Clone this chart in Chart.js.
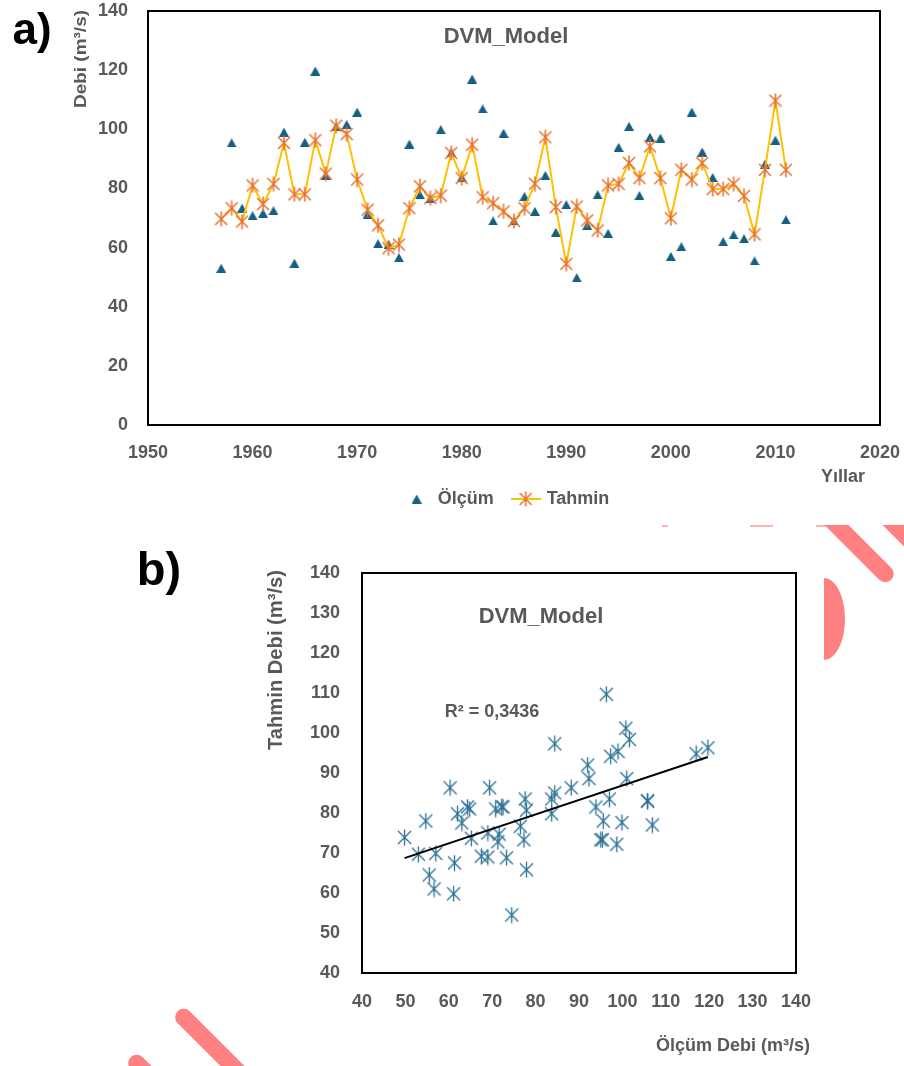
<!DOCTYPE html>
<html>
<head>
<meta charset="utf-8">
<script src="https://cdn.jsdelivr.net/npm/chart.js@4.4.1/dist/chart.umd.min.js"></script>
<style>
  body { margin: 0; width: 904px; height: 1066px; overflow: hidden; background: #fff; position: relative; }
  canvas { position: absolute; left: 0; }
  #chartA { top: 0; }
  #chartB { top: 520px; }
  .clip { position: absolute; overflow: hidden; }
  .wm { position: absolute; background: #ff8080; }
  .wmLine { position: absolute; background: #ffb3b3; height: 2px; top: 0; }
</style>
</head>
<body>
<canvas id="chartA" width="904" height="520" style="width:904px;height:520px"></canvas>
<canvas id="chartB" width="904" height="546" style="width:904px;height:546px"></canvas>

<!-- leftovers of the red watermark that sits on the source figure -->
<div class="clip" style="left:0;top:525px;width:904px;height:541px">
  <div class="wmLine" style="left:662px;width:6px"></div>
  <div class="wmLine" style="left:750px;width:23px"></div>
  <div class="wmLine" style="left:816px;width:26px"></div>
  <div class="wm" style="left:811px;top:13px;width:94px;height:17px;border-radius:9px;transform:rotate(45deg)"></div>
  <div class="wm" style="left:874px;top:1px;width:60px;height:17px;border-radius:9px;transform:rotate(45deg)"></div>
  <div class="clip" style="left:824px;top:53px;width:30px;height:82px">
    <div class="wm" style="left:-21px;top:0;width:42px;height:82px;border-radius:50%"></div>
  </div>
  <div class="wm" style="left:163px;top:513px;width:100px;height:17px;border-radius:9px;transform:rotate(45deg)"></div>
  <div class="wm" style="left:116px;top:559px;width:100px;height:17px;border-radius:9px;transform:rotate(45deg)"></div>
</div>

<script>
// yearly flow, m3/s
const years = [1957, 1958, 1959, 1960, 1961, 1962, 1963, 1964, 1965, 1966,
  1967, 1968, 1969, 1970, 1971, 1972, 1973, 1974, 1975, 1976,
  1977, 1978, 1979, 1980, 1981, 1982, 1983, 1984, 1985, 1986,
  1987, 1988, 1989, 1990, 1991, 1992, 1993, 1994, 1995, 1996,
  1997, 1998, 1999, 2000, 2001, 2002, 2003, 2004, 2005, 2006,
  2007, 2008, 2009, 2010, 2011];
const olcum = [53.0, 95.4, 73.3, 70.8, 71.6, 72.5, 99.0, 54.7, 95.6, 119.7,
  84.4, 100.8, 101.6, 105.8, 71.3, 61.3, 61.1, 56.6, 95.0, 77.9,
  76.5, 99.9, 92.0, 83.7, 117.0, 106.9, 69.0, 98.7, 69.0, 77.3,
  72.2, 84.4, 65.2, 74.5, 49.8, 67.5, 77.9, 64.8, 93.9, 101.0,
  77.6, 97.3, 97.0, 57.0, 60.3, 105.8, 92.3, 83.7, 62.0, 64.3,
  63.0, 55.5, 88.2, 96.3, 69.4];
const tahmin = [69.7, 73.3, 68.8, 81.0, 74.7, 81.5, 95.4, 78.0, 78.0, 96.3,
  85.0, 101.2, 98.4, 83.0, 72.8, 67.5, 59.8, 61.0, 73.3, 80.7,
  76.7, 77.6, 92.0, 83.5, 94.8, 77.0, 75.0, 72.2, 69.0, 73.3,
  81.6, 97.3, 73.7, 54.5, 73.9, 69.2, 65.8, 81.0, 81.5, 88.6,
  83.5, 94.2, 83.5, 69.9, 86.3, 83.0, 88.6, 79.8, 79.8, 81.5,
  77.5, 64.5, 86.3, 109.7, 86.3];

const yearAxis = [1950, 2020, 10];
const debiAxis = [0, 140, 20];
const scatterAxis = [40, 140, 10];
const r2Label = 'R² = 0,3436';

const GREY = '#595959';
const BLUE = '#156082';
const ORANGE = '#E97132';
const GOLD = '#FFC000';
Chart.defaults.font.family = "'Liberation Sans', Arial, sans-serif";
Chart.defaults.color = GREY;

// excel style "star" marker: an x with a vertical bar
function starMarker(w, h, color, lw) {
  const c = document.createElement('canvas');
  c.width = w; c.height = h;
  const g = c.getContext('2d');
  g.strokeStyle = color; g.lineWidth = lw;
  const off = (h - w) / 2;
  g.beginPath();
  g.moveTo(1, off + 1); g.lineTo(w - 1, off + w - 1);
  g.moveTo(w - 1, off + 1); g.lineTo(1, off + w - 1);
  g.moveTo(w / 2, 0.5); g.lineTo(w / 2, h - 0.5);
  g.stroke();
  return c;
}

function triMarker(w, h, color) {
  const c = document.createElement('canvas');
  c.width = w; c.height = h;
  const g = c.getContext('2d');
  g.fillStyle = color;
  g.beginPath();
  g.moveTo(w / 2, 0); g.lineTo(w, h); g.lineTo(0, h);
  g.closePath(); g.fill();
  return c;
}

function lineStarLegend() {
  const c = document.createElement('canvas');
  c.width = 30; c.height = 16;
  const g = c.getContext('2d');
  g.strokeStyle = GOLD; g.lineWidth = 2;
  g.beginPath(); g.moveTo(0, 8); g.lineTo(30, 8); g.stroke();
  g.drawImage(starMarker(14, 16, ORANGE, 1.5), 8, 0);
  return c;
}

function drawText(ctx, t) {
  ctx.save();
  ctx.font = t.font;
  ctx.fillStyle = t.color || GREY;
  ctx.textAlign = 'center';
  ctx.textBaseline = 'middle';
  ctx.translate(t.x, t.y);
  if (t.rot) ctx.rotate(t.rot);
  if (t.width) ctx.scale(t.width / ctx.measureText(t.text).width, 1);
  ctx.fillText(t.text, 0, 0);
  ctx.restore();
}

// black frame round the plot area plus the free texts of each panel
function frameAndTexts(id, texts, legendSpan) {
  return {
    id: id,
    afterLayout(chart) {
      // excel centres the legend under the plot, not under the whole canvas
      if (legendSpan && chart.legend) {
        chart.legend.left = legendSpan[0];
        chart.legend.right = legendSpan[1];
      }
    },
    beforeDatasetsDraw(chart) {
      const a = chart.chartArea, ctx = chart.ctx;
      ctx.save();
      ctx.strokeStyle = '#000'; ctx.lineWidth = 2;
      ctx.strokeRect(a.left, a.top, a.right - a.left, a.bottom - a.top);
      ctx.restore();
    },
    afterDraw(chart) {
      texts.forEach(t => drawText(chart.ctx, t));
    }
  };
}

const tickFont = { size: 18, weight: 'bold' };
const plain = v => String(v);
const noGrid = { display: false, drawTicks: false };
// fixed box size and no extra label overhang, so the plot area lands where the padding says
const fitX = h => s => { s.height = h; s.paddingLeft = 0; s.paddingRight = 0; };
const fitY = w => s => { s.width = w; s.paddingTop = 0; s.paddingBottom = 0; };

// ---------- a) time series ----------
new Chart(document.getElementById('chartA'), {
  type: 'scatter',
  data: {
    datasets: [
      {
        label: 'Ölçüm',
        data: years.map((y, i) => ({ x: y, y: olcum[i] })),
        pointStyle: triMarker(10, 9, BLUE),
        pointRadius: 6,
        order: 1
      },
      {
        label: 'Tahmin',
        data: years.map((y, i) => ({ x: y, y: tahmin[i] })),
        showLine: true,
        borderColor: GOLD,
        borderWidth: 2,
        pointStyle: starMarker(14, 16, ORANGE, 1.5),
        pointRadius: 6,
        order: 0
      }
    ]
  },
  options: {
    responsive: false,
    animation: false,
    events: [],
    layout: { padding: { top: 11, left: 0, right: 24, bottom: 2 } },
    scales: {
      x: {
        type: 'linear',
        min: yearAxis[0], max: yearAxis[1],
        afterFit: fitX(45),
        grid: noGrid,
        border: { display: false },
        ticks: { stepSize: yearAxis[2], padding: 17, font: tickFont, color: GREY, callback: plain, maxRotation: 0 }
      },
      y: {
        min: debiAxis[0], max: debiAxis[1],
        afterFit: fitY(148),
        grid: noGrid,
        border: { display: false },
        ticks: { stepSize: debiAxis[2], padding: 20, font: tickFont, color: GREY, callback: plain }
      }
    },
    plugins: {
      tooltip: { enabled: false },
      legend: {
        position: 'bottom',
        labels: {
          usePointStyle: true,
          pointStyleWidth: 24,
          boxHeight: 18,
          padding: 20,
          color: GREY,
          font: { size: 18, weight: 'bold' },
          generateLabels: () => [
            { text: 'Ölçüm', pointStyle: triMarker(10, 9, BLUE), fillStyle: BLUE, strokeStyle: BLUE,
              lineWidth: 0, hidden: false, datasetIndex: 0, fontColor: GREY },
            { text: 'Tahmin', pointStyle: lineStarLegend(), fillStyle: ORANGE, strokeStyle: ORANGE,
              lineWidth: 0, hidden: false, datasetIndex: 1, fontColor: GREY }
          ]
        }
      }
    }
  },
  plugins: [frameAndTexts('panelA', [
    { text: 'a)', x: 32, y: 32, font: "bold 44px 'Liberation Sans', Arial", color: '#000' },
    { text: 'DVM_Model', x: 506, y: 37, font: "bold 22px 'Liberation Sans', Arial" },
    { text: 'Yıllar', x: 843, y: 477, font: "bold 18px 'Liberation Sans', Arial" },
    { text: 'Debi (m³/s)', x: 81, y: 59, rot: -Math.PI / 2, width: 98, font: "bold 17px 'Liberation Sans', Arial" }
  ], [134, 880])]
});

// ---------- b) measured vs predicted ----------
const n = olcum.length;
const mx = olcum.reduce((s, v) => s + v, 0) / n;
const my = tahmin.reduce((s, v) => s + v, 0) / n;
let sxy = 0, sxx = 0;
for (let i = 0; i < n; i++) {
  sxy += (olcum[i] - mx) * (tahmin[i] - my);
  sxx += (olcum[i] - mx) * (olcum[i] - mx);
}
const slope = sxy / sxx;
const icpt = my - slope * mx;
const xLo = Math.min(...olcum), xHi = Math.max(...olcum);

new Chart(document.getElementById('chartB'), {
  type: 'scatter',
  data: {
    datasets: [
      {
        label: 'Tahmin',
        data: olcum.map((v, i) => ({ x: v, y: tahmin[i] })),
        pointStyle: starMarker(15, 17, '#2a6f93', 1.3),
        pointRadius: 6,
        order: 1
      },
      {
        label: 'Doğrusal',
        data: [{ x: xLo, y: icpt + slope * xLo }, { x: xHi, y: icpt + slope * xHi }],
        showLine: true,
        borderColor: '#000',
        borderWidth: 2,
        pointRadius: 0,
        order: 0
      }
    ]
  },
  options: {
    responsive: false,
    animation: false,
    events: [],
    layout: { padding: { top: 53, left: 0, right: 108, bottom: 0 } },
    scales: {
      x: {
        type: 'linear',
        min: scatterAxis[0], max: scatterAxis[1],
        afterFit: fitX(93),
        grid: noGrid,
        border: { display: false },
        ticks: { stepSize: scatterAxis[2], padding: 18, font: tickFont, color: GREY, callback: plain, maxRotation: 0 }
      },
      y: {
        min: scatterAxis[0], max: scatterAxis[1],
        afterFit: fitY(362),
        grid: noGrid,
        border: { display: false },
        ticks: { stepSize: scatterAxis[2], padding: 22, font: tickFont, color: GREY, callback: plain }
      }
    },
    plugins: {
      tooltip: { enabled: false },
      legend: { display: false }
    }
  },
  plugins: [frameAndTexts('panelB', [
    { text: 'b)', x: 159, y: 52, font: "bold 47px 'Liberation Sans', Arial", color: '#000' },
    { text: 'DVM_Model', x: 541, y: 97, font: "bold 22px 'Liberation Sans', Arial" },
    { text: r2Label, x: 492, y: 192, font: "bold 18px 'Liberation Sans', Arial" },
    { text: 'Tahmin Debi (m³/s)', x: 276, y: 140, rot: -Math.PI / 2, width: 180, font: "bold 20px 'Liberation Sans', Arial" },
    { text: 'Ölçüm Debi (m³/s)', x: 733, y: 526, font: "bold 18px 'Liberation Sans', Arial" }
  ])]
});
</script>
</body>
</html>
